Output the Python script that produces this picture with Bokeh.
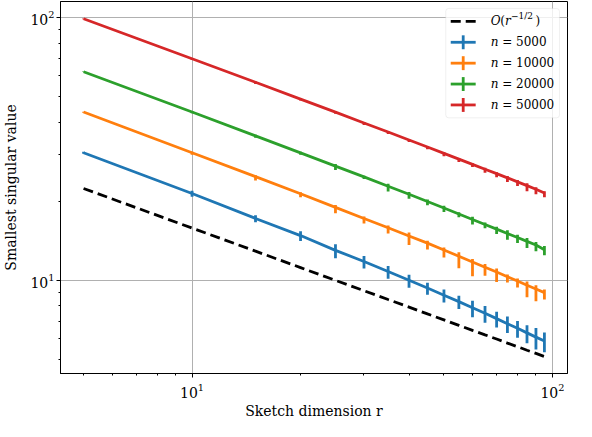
from bokeh.plotting import figure
from bokeh.models import (Range1d, FixedTicker, LogTickFormatter, LinearScale,
                          BoxAnnotation, ColumnDataSource)
from bokeh.core.properties import value
from bokeh.embed import file_html
from bokeh.resources import INLINE

# ---------------- data ----------------
r = [5, 10, 15, 20, 25, 30, 35, 40, 45, 50, 55, 60, 65, 70, 75, 80, 85, 90, 95]

ref_rate = [22.36, 15.81, 12.91, 11.18, 10.00, 9.13, 8.45, 7.91, 7.45, 7.07,
            6.74, 6.45, 6.20, 5.98, 5.77, 5.59, 5.42, 5.27, 5.13]

n_values = [5000, 10000, 20000, 50000]

mean_n5000 = [30.6, 21.4, 17.2, 14.8, 13.0, 11.8, 10.8, 10.0, 9.35, 8.78,
              8.30, 7.86, 7.49, 7.15, 6.84, 6.57, 6.31, 6.08, 5.88]
lo_n5000 = [0.29, 0.61, 0.57, 0.70, 0.86, 0.71, 0.65, 0.63, 0.53, 0.55,
            0.52, 0.62, 0.59, 0.53, 0.54, 0.52, 0.55, 0.63, 0.56]
hi_n5000 = [0.24, 0.50, 0.47, 0.57, 0.71, 0.58, 0.53, 0.51, 0.43, 0.45,
            0.43, 0.51, 0.49, 0.44, 0.45, 0.43, 0.44, 0.51, 0.45]

mean_n10000 = [43.7, 30.6, 24.8, 21.35, 18.95, 17.2, 15.85, 14.75, 13.85, 13.05,
               12.35, 11.75, 11.22, 10.75, 10.32, 9.94, 9.58, 9.27, 8.98]
lo_n10000 = [0.30, 0.55, 0.80, 0.65, 0.95, 0.73, 0.77, 1.12, 0.76, 0.84,
             1.24, 1.39, 0.80, 0.90, 0.50, 0.55, 0.95, 0.95, 0.52]
hi_n10000 = [0.15, 0.24, 0.33, 0.27, 0.40, 0.31, 0.32, 0.44, 0.31, 0.28,
             0.43, 0.30, 0.33, 0.33, 0.21, 0.22, 0.31, 0.30, 0.25]

mean_n20000 = [62.2, 43.7, 35.45, 30.55, 27.2, 24.75, 22.8, 21.25, 19.95, 18.85,
               17.88, 17.05, 16.3, 15.66, 15.08, 14.55, 14.07, 13.62, 13.07]
lo_n20000 = [0.20, 0.45, 0.60, 0.50, 0.90, 0.45, 1.00, 0.80, 0.64, 0.66,
             0.50, 0.74, 0.52, 0.64, 0.82, 0.68, 0.79, 0.71, 0.60]
hi_n20000 = [0.10, 0.30, 0.32, 0.29, 0.50, 0.25, 0.51, 0.42, 0.34, 0.36,
             0.27, 0.39, 0.28, 0.34, 0.44, 0.36, 0.42, 0.38, 0.45]

mean_n50000 = [99.0, 69.7, 56.7, 48.95, 43.65, 39.7, 36.7, 34.2, 32.15, 30.42,
               28.93, 27.63, 26.48, 25.46, 24.54, 23.7, 22.93, 22.22, 21.5]
lo_n50000 = [0.40, 0.80, 0.85, 0.58, 0.65, 0.71, 0.66, 0.62, 0.58, 0.73,
             0.70, 0.66, 0.80, 0.76, 0.89, 0.85, 1.10, 0.94, 0.78]
hi_n50000 = [0.20, 0.40, 0.37, 0.26, 0.29, 0.31, 0.29, 0.26, 0.25, 0.32,
             0.30, 0.29, 0.34, 0.33, 0.38, 0.37, 0.48, 0.40, 0.33]

x_major = [10, 100]
x_minor = [5, 6, 7, 8, 9, 20, 30, 40, 50, 60, 70, 80, 90]
y_major = [10, 100]
y_minor = [5, 6, 7, 8, 9, 20, 30, 40, 50, 60, 70, 80, 90]

series = [
    ("#1f77b4", mean_n5000, lo_n5000, hi_n5000),
    ("#ff7f0e", mean_n10000, lo_n10000, hi_n10000),
    ("#2ca02c", mean_n20000, lo_n20000, hi_n20000),
    ("#d62728", mean_n50000, lo_n50000, hi_n50000),
]

FONT = "DejaVu Serif"
FRAME_W, FRAME_H = 508, 374

p = figure(width=576, height=421, x_axis_type="log", y_axis_type="log",
           x_range=Range1d(4.315, 110.1), y_range=Range1d(4.42, 115.1),
           output_backend="svg", toolbar_location=None,
           min_border_left=59, min_border_right=9, min_border_top=1,
           min_border_bottom=46)
p.background_fill_color = "white"
p.border_fill_color = "white"
p.outline_line_color = "black"
p.outline_line_width = 1
p.outline_line_alpha = 1

# pixel-like overlay coordinates for the legend
p.extra_x_ranges = {"lx": Range1d(0, FRAME_W)}
p.extra_y_ranges = {"ly": Range1d(0, FRAME_H)}
p.extra_x_scales = {"lx": LinearScale()}
p.extra_y_scales = {"ly": LinearScale()}

for ax, maj, mnr in ((p.xaxis[0], x_major, x_minor), (p.yaxis[0], y_major, y_minor)):
    ax.ticker = FixedTicker(ticks=maj, minor_ticks=mnr)
    ax.formatter = LogTickFormatter()
    ax.major_tick_in = 0
    ax.major_tick_out = 4
    ax.minor_tick_in = 0
    ax.minor_tick_out = 2
    ax.major_tick_line_color = "black"
    ax.minor_tick_line_color = "black"
    ax.axis_line_color = "black"
    ax.major_label_text_font = FONT
    ax.major_label_text_font_size = "14px"
    ax.major_label_text_color = "black"
    ax.axis_label_text_font = FONT
    ax.axis_label_text_font_size = "14px"
    ax.axis_label_text_font_style = "normal"
    ax.axis_label_text_color = "black"

p.xaxis.major_label_standoff = 5
p.xaxis.axis_label = "Sketch dimension r"
p.xaxis.axis_label_standoff = 2
p.yaxis.major_label_standoff = 2
p.yaxis.axis_label = "Smallest singular value"
p.yaxis.axis_label_standoff = 8

p.xgrid.ticker = FixedTicker(ticks=x_major)
p.ygrid.ticker = FixedTicker(ticks=y_major)
p.grid.grid_line_color = "#b0b0b0"
p.grid.grid_line_width = 1
p.grid.grid_line_alpha = 1

# reference rate
p.line(r, ref_rate, line_color="black", line_width=2.8, line_dash="10 5")

# series with error bars
for color, mean, lo, hi in series:
    src = ColumnDataSource(dict(
        r=r, mean=mean,
        low=[m - a for m, a in zip(mean, lo)],
        high=[m + b for m, b in zip(mean, hi)],
    ))
    p.line("r", "mean", source=src, line_color=color, line_width=2.8, line_join="round")
    p.segment(x0="r", y0="low", x1="r", y1="high", source=src,
              line_color=color, line_width=2.8)

# ---------------- legend ----------------
box = BoxAnnotation(left=386, right=500, top=FRAME_H - 7, bottom=FRAME_H - 117,
                    x_range_name="lx", y_range_name="ly",
                    fill_color="white", fill_alpha=0.8,
                    line_color="#cccccc", line_width=1, border_radius=3)
p.add_layout(box)

row_y = [FRAME_H - d for d in (20, 41, 62, 83, 104)]
sx0, sx1 = 391, 416
sxc = (sx0 + sx1) / 2
tx = 431

kw = dict(x_range_name="lx", y_range_name="ly", level="overlay")
p.line([sx0, sx1], [row_y[0], row_y[0]], line_color="black", line_width=2.8,
       line_dash="10 5", **kw)
for (color, *_), yy in zip(series, row_y[1:]):
    p.line([sx0, sx1], [yy, yy], line_color=color, line_width=2.8, **kw)
    p.line([sxc, sxc], [yy - 7, yy + 7], line_color=color, line_width=2.8, **kw)

tkw = dict(text_font=value(FONT), text_color="black", text_baseline="middle",
           text_align="left", **kw)
# O(r^{-1/2})
y0 = row_y[0]
p.text(x=[tx], y=[y0], text=["O"], text_font_size="12px", text_font_style="italic", **tkw)
p.text(x=[tx + 9.6], y=[y0], text=["("], text_font_size="12px", **tkw)
p.text(x=[tx + 14.4], y=[y0], text=["r"], text_font_size="12px", text_font_style="italic", **tkw)
p.text(x=[tx + 20.4], y=[y0 + 5], text=["\u22121/2"], text_font_size="9px", **tkw)
p.text(x=[tx + 45.0], y=[y0], text=[")"], text_font_size="12px", **tkw)
# n = ...
p.text(x=[tx] * 4, y=row_y[1:], text=["n"] * 4, text_font_size="12px",
       text_font_style="italic", **tkw)
p.text(x=[tx + 11.5] * 4, y=row_y[1:], text=[f"= {n}" for n in n_values],
       text_font_size="12px", **tkw)

open("out.html", "w").write(file_html(p, INLINE))
